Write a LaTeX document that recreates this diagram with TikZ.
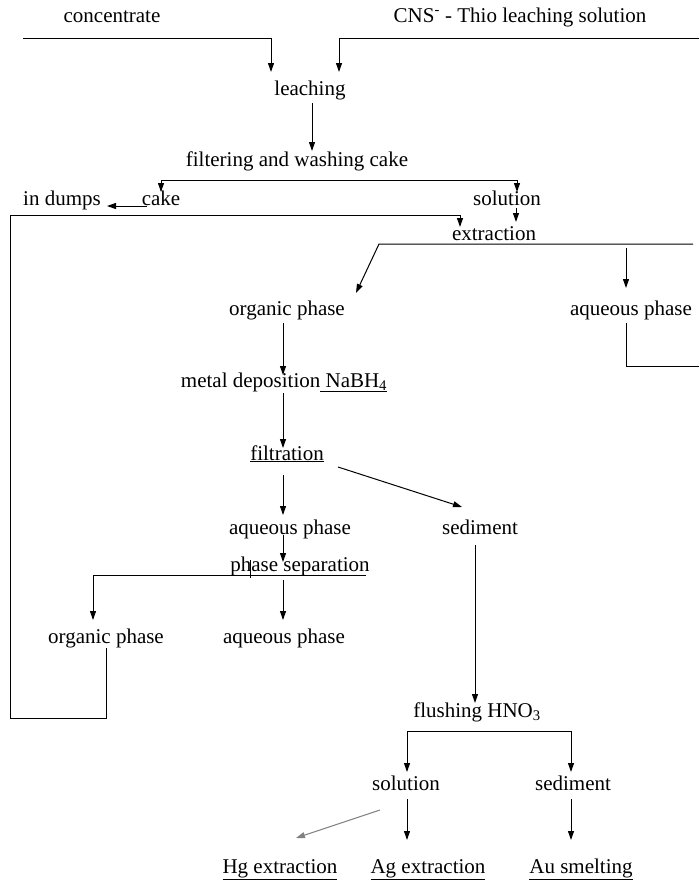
\documentclass[tikz,border=0pt]{standalone}
\usepackage{fontspec}
\setmainfont{Liberation Serif}
\usetikzlibrary{arrows.meta}
\tikzset{
  lbl/.style={inner sep=0pt, anchor=base, font=\fontsize{21}{25}\selectfont},
  wire/.style={line width=1pt},
  flow/.style={wire, -{Triangle[width=6pt,length=9pt]}},
  fork/.style={wire, {Triangle[width=6pt,length=9pt]}-{Triangle[width=6pt,length=9pt]}},
}
\begin{document}
\begin{tikzpicture}[x=1pt,y=-1pt]
    \useasboundingbox (0,0) rectangle (699,881);

    % Labels (placed on their baselines)
    \node[lbl] (conc) at (112,22) {concentrate};
    \node[lbl] (cns) at (520,22) {CNS\textsuperscript{-} - Thio leaching solution};
    \node[lbl] (leach) at (310,95) {leaching};
    \node[lbl] (filt) at (297,166) {filtering and washing cake};
    \node[lbl] (dumps) at (62,205) {in dumps};
    \node[lbl] (cake) at (161,205) {cake};
    \node[lbl] (sol1) at (507,205) {solution};
    \node[lbl] (extr) at (494,240) {extraction};
    \node[lbl] (org1) at (287,315) {organic phase};
    \node[lbl] (aq1) at (631,315) {aqueous phase};
    \node[lbl] (metal) at (284,387) {metal deposition\underline{\ NaBH\textsubscript{4}}};
    \node[lbl] (filtr) at (287,460) {\underline{filtration}};
    \node[lbl] (aq2) at (290,534) {aqueous phase};
    \node[lbl] (sed1) at (480,534) {sediment};
    \node[lbl] (phsep) at (300,571) {phase separation};
    \node[lbl] (org2) at (106,643) {organic phase};
    \node[lbl] (aq3) at (284,643) {aqueous phase};
    \node[lbl] (flush) at (477,717) {flushing HNO\textsubscript{3}};
    \node[lbl] (sol2) at (406,790) {solution};
    \node[lbl] (sed2) at (573,790) {sediment};
    \node[lbl] (hg) at (280,873) {\underline{Hg extraction}};
    \node[lbl] (ag) at (428,873) {\underline{Ag extraction}};
    \node[lbl] (au) at (581,873) {\underline{Au smelting}};

    % Bends and free ends
    \coordinate (concL) at (23,38);
    \coordinate (concIn) at (271,72);
    \coordinate (cnsR) at (699,38);
    \coordinate (cnsIn) at (339,72);
    \coordinate (filtL) at (161,180);
    \coordinate (filtR) at (517,180);
    \coordinate (backL) at (10,718);
    \coordinate (backT) at (10,215);
    \coordinate (backIn) at (460,227);
    \coordinate (extrR) at (693,244);
    \coordinate (extrL) at (379,244);
    \coordinate (aqOut) at (699,366);
    \coordinate (sepR) at (366,575);
    \coordinate (sepL) at (93,575);
    \coordinate (flushL) at (407,731);
    \coordinate (flushR) at (571,731);

    % Feed
    \draw[flow] (concL) -| (concIn);
    \draw[flow] (cnsR) -| (cnsIn);
    \draw[flow] (312,103) -- (312,151);

    % Filtering
    \draw[fork] (161,192) -- (filtL) -- (filtR) -- (517,192);
    \draw[flow] (147,206) -- (107,206);
    \draw[flow] (516,208) -- (516,222);

    % Recycle of the organic phase
    \draw[flow] (106,648) |- (backL) -- (backT) -| (backIn);

    % Extraction
    \draw[flow] (extrR) -- (extrL) -- (356,293);
    \draw[flow] (626,248) -- (626,288);
    \draw[wire] (626,323) |- (aqOut);

    % Deposition and filtration
    \draw[flow] (283,323) -- (283,375);
    \draw[flow] (283,393) -- (283,448);
    \draw[flow] (283,475) -- (283,515);
    \draw[flow] (338,467) -- (462,507);

    % Phase separation
    \draw[flow] (283,535) -- (283,562);
    \draw[flow] (sepR) -- (sepL) -- (93,620);
    \draw[flow] (283,580) -- (283,620);
    \draw[wire] (250,560) -- (250,578);

    % Sediment treatment
    \draw[flow] (475,545) -- (475,703);
    \draw[fork] (407,772) -- (flushL) -- (flushR) -- (571,772);
    \draw[flow] (407,799) -- (407,840);
    \draw[flow] (571,799) -- (571,840);
    \draw[flow, gray] (380,810) -- (296,838);
\end{tikzpicture}
\end{document}
